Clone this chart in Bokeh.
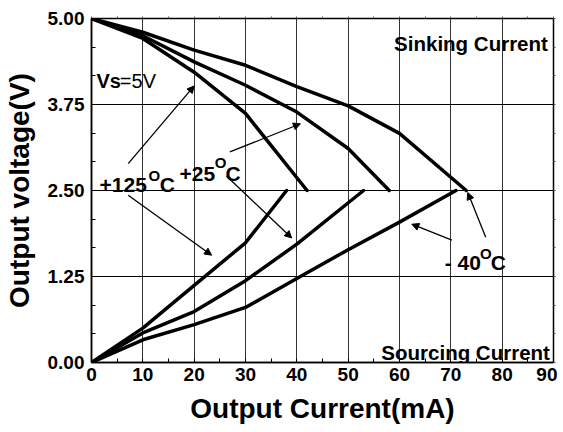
from bokeh.plotting import figure
from bokeh.models import (Arrow, NormalHead, FixedTicker, Range1d, Label, LinearAxis)
from bokeh.embed import file_html
from bokeh.resources import INLINE

# ---------------- data ----------------
x_ticks = [0, 10, 20, 30, 40, 50, 60, 70, 80, 90]
y_ticks = [0.0, 1.25, 2.5, 3.75, 5.0]
y_tick_labels = ["0.00", "1.25", "2.50", "3.75", "5.00"]

# Sinking current curves (output voltage falls from 5 V)
sink_125_x = [0, 10, 20, 30, 42]
sink_125_y = [5.0, 4.71, 4.22, 3.62, 2.5]
sink_25_x = [0, 10, 20, 30, 40, 50, 58]
sink_25_y = [5.0, 4.75, 4.37, 4.03, 3.64, 3.11, 2.5]
sink_m40_x = [0, 10, 20, 30, 40, 50, 60, 73]
sink_m40_y = [5.0, 4.80, 4.54, 4.32, 4.01, 3.73, 3.33, 2.5]

# Sourcing current curves (output voltage rises from 0 V)
src_125_x = [0, 10, 20, 30, 38]
src_125_y = [0.0, 0.50, 1.12, 1.74, 2.5]
src_25_x = [0, 10, 20, 30, 40, 53]
src_25_y = [0.0, 0.43, 0.74, 1.19, 1.72, 2.5]
src_m40_x = [0, 10, 20, 30, 40, 50, 60, 71]
src_m40_y = [0.0, 0.33, 0.55, 0.80, 1.22, 1.64, 2.04, 2.5]

x_title = "Output Current(mA)"
y_title = "Output voltage(V)"

# annotation arrows: (x_start, y_start, x_end, y_end)
arrows = [
    (7.15, 2.89, 20.0, 4.02),
    (7.15, 2.43, 23.4, 1.56),
    (26.96, 3.06, 40.7, 3.47),
    (26.3, 2.71, 39.0, 1.81),
    (70.2, 1.78, 62.4, 2.01),
    (76.8, 1.82, 73.3, 2.47),
]

FONT = "Liberation Sans"

p = figure(frame_width=462, frame_height=344,
           x_range=Range1d(0, 90), y_range=Range1d(0, 5),
           output_backend="svg", toolbar_location=None,
           min_border_left=82, min_border_right=4,
           min_border_top=18, min_border_bottom=53,
           background_fill_color="white", border_fill_color="white")

p.outline_line_color = "black"
p.outline_line_width = 1.5

x_minor = [v + 5 for v in x_ticks[:-1]]
y_minor = [y_ticks[i] + k * 1.25 / 3 for i in range(4) for k in (1, 2)]

# axes
p.xaxis.ticker = FixedTicker(ticks=x_ticks, minor_ticks=x_minor)
p.yaxis.ticker = FixedTicker(ticks=y_ticks, minor_ticks=y_minor)
p.yaxis.major_label_overrides = {v: s for v, s in zip(y_ticks, y_tick_labels)}
p.xaxis.major_label_overrides = {v: str(v) for v in x_ticks}

for ax in (p.xaxis[0], p.yaxis[0]):
    ax.axis_line_color = "black"
    ax.axis_line_width = 1.5
    ax.major_tick_in = 4
    ax.major_tick_out = 0
    ax.minor_tick_in = 4
    ax.minor_tick_out = 0
    ax.major_tick_line_color = "black"
    ax.minor_tick_line_color = "black"
    ax.major_label_text_font = FONT
    ax.major_label_text_font_style = "bold"
    ax.major_label_text_font_size = "19px"
    ax.major_label_text_color = "black"
    ax.axis_label_text_font = FONT
    ax.axis_label_text_font_style = "bold"
    ax.axis_label_text_font_size = "28px"
    ax.axis_label_text_color = "black"

p.xaxis.axis_label = x_title
p.yaxis.axis_label = y_title
p.xaxis.major_label_standoff = 5
p.yaxis.major_label_standoff = 7
p.xaxis.axis_label_standoff = 9
p.yaxis.axis_label_standoff = 10

# mirrored tick marks on right and top edges (minor-only tickers, no labels)
right_ax = LinearAxis(ticker=FixedTicker(ticks=[], minor_ticks=sorted(y_ticks + y_minor)),
                      axis_line_color=None, major_tick_in=0, major_tick_out=0,
                      minor_tick_in=0, minor_tick_out=2,
                      minor_tick_line_color="#555555")
p.add_layout(right_ax, "right")
top_ax = LinearAxis(ticker=FixedTicker(ticks=[], minor_ticks=sorted(x_ticks + x_minor)),
                    axis_line_color=None, major_tick_in=0, major_tick_out=0,
                    minor_tick_in=0, minor_tick_out=2,
                    minor_tick_line_color="#555555")
p.add_layout(top_ax, "above")

# grid
p.xgrid.ticker = FixedTicker(ticks=x_ticks[1:-1])
p.ygrid.ticker = FixedTicker(ticks=y_ticks[1:-1])
p.xgrid.grid_line_color = "#333333"
p.ygrid.grid_line_color = "black"
p.xgrid.grid_line_width = 1
p.ygrid.grid_line_width = 1

# curves
for xs, ys in [(sink_125_x, sink_125_y), (sink_25_x, sink_25_y), (sink_m40_x, sink_m40_y),
               (src_125_x, src_125_y), (src_25_x, src_25_y), (src_m40_x, src_m40_y)]:
    p.line(xs, ys, line_width=3.5, line_color="black", line_join="round", line_cap="round")

# arrows
for x0, y0, x1, y1 in arrows:
    p.add_layout(Arrow(x_start=x0, y_start=y0, x_end=x1, y_end=y1,
                       line_width=1.3, line_color="black",
                       end=NormalHead(size=7, fill_color="black", line_color="black", line_width=1)))

def lab(x, y, t, size="21px", style="bold", align="left"):
    p.add_layout(Label(x=x, y=y, text=t, text_font=FONT, text_font_style=style,
                       text_font_size=size, text_color="black",
                       text_align=align, text_baseline="alphabetic"))

# temperature labels with superscript O
lab(1.56, 2.58, "+125")
lab(11.1, 2.725, "O", size="15px")
lab(13.3, 2.58, "C")

lab(17.15, 2.74, "+25")
lab(24.0, 2.91, "O", size="15px")
lab(26.1, 2.74, "C")

lab(68.8, 1.46, "- 40")
lab(75.7, 1.59, "O", size="15px")
lab(77.8, 1.46, "C")

lab(0.97, 4.09, "Vs", size="20px")
lab(5.52, 4.09, "=5V", size="20px", style="normal")

lab(88.9, 4.635, "Sinking Current", size="20.5px", align="right")
lab(89.3, 0.14, "Sourcing Current", size="20.5px", align="right")

open("out.html", "w").write(file_html(p, INLINE))
